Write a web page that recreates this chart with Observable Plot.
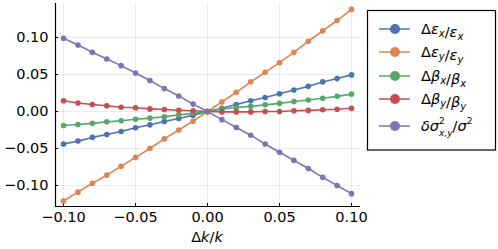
<!DOCTYPE html>
<html>
<head>
<meta charset="utf-8">
<script src="https://cdn.jsdelivr.net/npm/d3@7"></script>
<script src="https://cdn.jsdelivr.net/npm/@observablehq/plot@0.6"></script>
<style>
  html, body { margin: 0; padding: 0; background: #fff; }
  svg { font-family: "DejaVu Sans", sans-serif; }
</style>
</head>
<body>
<div id="chart"></div>
<script>
const dk = [-0.10, -0.09, -0.08, -0.07, -0.06, -0.05, -0.04, -0.03, -0.02, -0.01, 0.00,
            0.01, 0.02, 0.03, 0.04, 0.05, 0.06, 0.07, 0.08, 0.09, 0.10];
const epsX = [-0.044, -0.040, -0.035, -0.031, -0.027, -0.022, -0.018, -0.0135, -0.0095, -0.005, 0,
              0.0045, 0.0095, 0.0145, 0.019, 0.024, 0.029, 0.034, 0.040, 0.0445, 0.0495];
const epsY = [-0.121, -0.109, -0.097, -0.086, -0.074, -0.062, -0.050, -0.037, -0.025, -0.013, 0,
              0.013, 0.026, 0.040, 0.053, 0.066, 0.080, 0.095, 0.109, 0.123, 0.138];
const betaX = [-0.019, -0.0175, -0.016, -0.014, -0.0125, -0.0105, -0.009, -0.007, -0.0045, -0.0025, 0,
               0.0035, 0.0055, 0.007, 0.009, 0.011, 0.0135, 0.0155, 0.018, 0.0205, 0.0235];
const betaY = [0.0145, 0.0115, 0.0095, 0.0077, 0.0058, 0.005, 0.0035, 0.0027, 0.0018, 0.001, 0,
               -0.0005, -0.0005, -0.0005, 0, 0, 0.001, 0.0015, 0.0023, 0.003, 0.0045];
const sigma = [0.099, 0.090, 0.080, 0.071, 0.062, 0.052, 0.042, 0.031, 0.021, 0.010, 0,
               -0.011, -0.0216, -0.032, -0.044, -0.055, -0.066, -0.077, -0.089, -0.100, -0.111];
const seriesNames = ["epsX", "epsY", "betaX", "betaY", "sigma"];
const seriesValues = [epsX, epsY, betaX, betaY, sigma];
const colors = ["#4C72B0", "#DD8452", "#55A868", "#C44E52", "#8172B3"];
const xTicks = [-0.10, -0.05, 0.00, 0.05, 0.10];
const yTicks = [-0.10, -0.05, 0.00, 0.05, 0.10];

const rows = [];
seriesNames.forEach((s, i) => dk.forEach((x, j) => rows.push({series: s, x, y: seriesValues[i][j]})));

const fmt = d3.format(".2f");
const tickFmt = d => fmt(d).replace("-", "\u2212");

const W = 498, H = 249, FS = 14.5;
const plot = Plot.plot({
  width: W, height: H,
  marginLeft: 55, marginRight: 138, marginTop: 3, marginBottom: 43,
  style: {fontFamily: "DejaVu Sans, sans-serif", fontSize: FS + "px", background: "white", color: "black"},
  x: {domain: [-0.1056, 0.10625], ticks: xTicks, tickFormat: tickFmt, label: null},
  y: {domain: [-0.1284, 0.146], ticks: yTicks, tickFormat: tickFmt, label: null},
  color: {domain: seriesNames, range: colors},
  marks: [
    Plot.gridX(xTicks, {stroke: "#000", strokeOpacity: 0.1, strokeWidth: 0.8}),
    Plot.gridY(yTicks, {stroke: "#000", strokeOpacity: 0.1, strokeWidth: 0.8}),
    Plot.axisX(xTicks, {tickSize: 0, tickPadding: 5, tickFormat: tickFmt, label: null, fill: "black", fontSize: FS}),
    Plot.axisY(yTicks, {tickSize: 0, tickPadding: 7, tickFormat: tickFmt, label: null, fill: "black", fontSize: FS}),
    Plot.axisX(xTicks, {tickSize: -3, text: null, label: null, stroke: "black"}),
    Plot.axisY(yTicks, {tickSize: -3, text: null, label: null, stroke: "black"}),
    Plot.ruleY([-0.1284], {stroke: "black", strokeWidth: 1.2}),
    Plot.ruleX([-0.1056], {stroke: "black", strokeWidth: 1.2}),
    Plot.line(rows, {x: "x", y: "y", z: "series", stroke: "series", strokeWidth: 1.6}),
    Plot.dot(rows, {x: "x", y: "y", fill: "series", r: 2.8})
  ]
});
document.getElementById("chart").appendChild(plot);

const svg = d3.select(plot);
// x-axis label Δk/k
const xl = svg.append("text").attr("x", 207).attr("y", 242).attr("text-anchor", "middle")
  .attr("font-size", FS).attr("fill", "black");
xl.append("tspan").text("\u0394");
xl.append("tspan").attr("font-style", "italic").text("k");
xl.append("tspan").text("/");
xl.append("tspan").attr("font-style", "italic").text("k");

// legend
const lg = svg.append("g").attr("text-anchor", "start");
lg.append("rect").attr("x", 367.5).attr("y", 10.5).attr("width", 128).attr("height", 139.5)
  .attr("fill", "white").attr("stroke", "black").attr("stroke-width", 1.2);
const rowY = [29, 52, 76, 99, 126];
function sub(t, s) {
  t.append("tspan").attr("font-style", "italic").text(s[0]);
  t.append("tspan").attr("font-size", 10).attr("font-style", "italic").attr("dy", 3).text(s[1]);
  t.append("tspan").attr("dy", -3).text("");
}
const labels = [
  t => { t.append("tspan").text("\u0394"); sub(t, ["\u03b5", "x"]); t.append("tspan").text("/"); sub(t, ["\u03b5", "x"]); },
  t => { t.append("tspan").text("\u0394"); sub(t, ["\u03b5", "y"]); t.append("tspan").text("/"); sub(t, ["\u03b5", "y"]); },
  t => { t.append("tspan").text("\u0394"); sub(t, ["\u03b2", "x"]); t.append("tspan").text("/"); sub(t, ["\u03b2", "x"]); },
  t => { t.append("tspan").text("\u0394"); sub(t, ["\u03b2", "y"]); t.append("tspan").text("/"); sub(t, ["\u03b2", "y"]); },
  t => {
    t.append("tspan").attr("font-style", "italic").text("\u03b4\u03c3");
    t.append("tspan").attr("font-size", 9).attr("dy", -7).text("2");
    t.append("tspan").attr("font-size", 9).attr("font-style", "italic").attr("dx", -5.7).attr("dy", 12).text("x,y");
    t.append("tspan").attr("dy", -5).text("/");
    t.append("tspan").attr("font-style", "italic").text("\u03c3");
    t.append("tspan").attr("font-size", 9).attr("dy", -7).text("2");
  }
];
seriesNames.forEach((s, i) => {
  const y = rowY[i];
  lg.append("line").attr("x1", 379).attr("x2", 410).attr("y1", y).attr("y2", y)
    .attr("stroke", colors[i]).attr("stroke-width", 1.5);
  lg.append("circle").attr("cx", 395).attr("cy", y).attr("r", 5).attr("fill", colors[i]);
  const t = lg.append("text").attr("x", 421).attr("y", y + 5).attr("font-size", FS).attr("fill", "black");
  labels[i](t);
});
</script>
</body>
</html>
